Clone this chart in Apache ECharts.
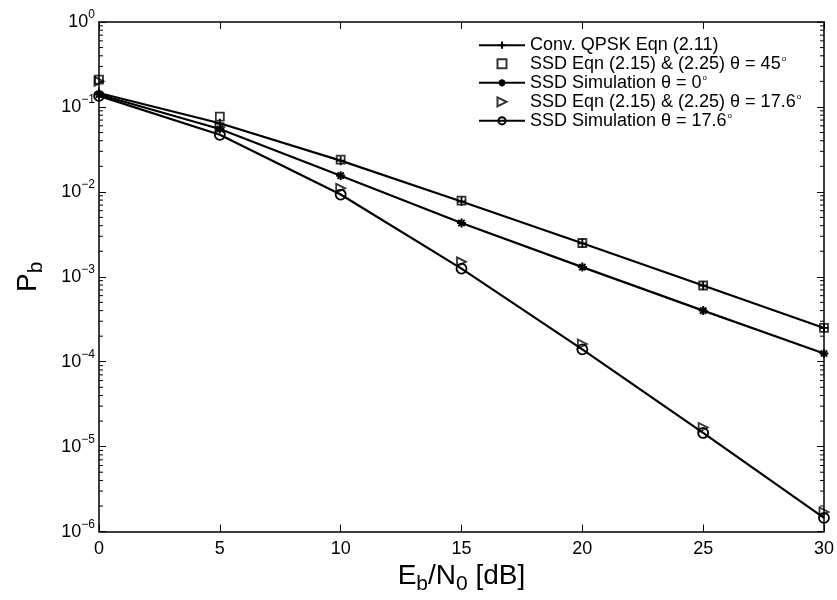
<!DOCTYPE html>
<html><head><meta charset="utf-8">
<script src="https://cdn.jsdelivr.net/npm/echarts@6/dist/echarts.min.js"></script>
<style>html,body{margin:0;padding:0;background:#fff}#c{width:837px;height:600px}</style>
</head><body><div id="c"></div>
<script>
var ebn0 = [0, 5, 10, 15, 20, 25, 30];
var convQPSK = [0.146, 0.0642, 0.0233, 0.0077, 0.00248, 0.00079, 0.00025];
var ssd45 = [0.21, 0.077, 0.024, 0.0079, 0.0025, 0.00079, 0.00025];
var ssdSim0 = [0.14, 0.055, 0.0155, 0.0043, 0.0013, 0.0004, 0.000125];
var ssd176 = [0.2, 0.058, 0.011, 0.0015, 0.000162, 0.0000168, 0.0000017];
var ssdSim176 = [0.135, 0.047, 0.0093, 0.00125, 0.00014, 0.0000145, 0.00000145];
var seriesNames = ['Conv. QPSK Eqn (2.11)', 'SSD Eqn (2.15) & (2.25) θ = 45°', 'SSD Simulation θ = 0°', 'SSD Eqn (2.15) & (2.25) θ = 17.6°', 'SSD Simulation θ = 17.6°'];
var xTicks = [0, 5, 10, 15, 20, 25, 30];
var minorMultipliers = [2, 3, 4, 5, 6, 7, 8, 9];
var decades = [1e-6, 1e-5, 1e-4, 1e-3, 1e-2, 1e-1];

var minorTickData = [];
decades.forEach(function (d) { minorMultipliers.forEach(function (m) { minorTickData.push([0, m * d]); }); });

function pairs(ys) { return ebn0.map(function (x, i) { return [x, ys[i]]; }); }

var FONT = 'Liberation Sans, Arial, sans-serif';
var plusPath = 'path://M5,0 L5,10 M0,5 L10,5';
var starPath = 'path://M5,0 L5,10 M0,5 L10,5 M1.5,1.5 L8.5,8.5 M8.5,1.5 L1.5,8.5';
var triPath = 'path://M0,0 L10,5 L0,10 Z';
var sqPath = 'path://M0,0 L10,0 L10,10 L0,10 Z';
var hollow = { color: 'rgba(0,0,0,0)', borderColor: '#000', borderWidth: 1.8 };

var chart = echarts.init(document.getElementById('c'), null, { renderer: 'canvas' });
chart.setOption({
  animation: false,
  backgroundColor: '#fff',
  textStyle: { fontFamily: FONT },
  grid: { left: 99, right: 11, top: 22, bottom: 67 },
  legend: {
    orient: 'vertical', left: 478, top: 36, padding: 0, itemWidth: 46, itemHeight: 9, itemGap: 0,
    data: seriesNames,
    textStyle: {
      fontFamily: FONT, fontSize: 18, color: '#000', lineHeight: 18.3,
      rich: { sup: { fontSize: 8, lineHeight: 8, padding: [0, 0, 11, 1], fontFamily: FONT, color: '#000' } }
    },
    formatter: function (n) { return n.replace('°', '{sup|o}'); }
  },
  xAxis: [{
    type: 'value', min: 0, max: 30, interval: 5, position: 'bottom',
    axisLine: { onZero: false, lineStyle: { color: '#000', width: 1.5 } },
    axisTick: { inside: true, length: 7, lineStyle: { color: '#000' } },
    splitLine: { show: false },
    axisLabel: { color: '#000', fontSize: 18, margin: 8, fontFamily: FONT },
    name: '{a|E}{s|b}{a|/N}{s|0}{a| [dB]}', nameLocation: 'middle', nameGap: 26,
    nameTextStyle: {
      color: '#000', fontFamily: FONT,
      rich: { a: { fontSize: 28, fontFamily: FONT, color: '#000' }, s: { fontSize: 21, padding: [16, 0, 0, 0], fontFamily: FONT, color: '#000' } }
    }
  }, {
    type: 'value', min: 0, max: 30, interval: 5, position: 'top',
    axisLine: { onZero: false, lineStyle: { color: '#000', width: 1.5 } },
    axisTick: { inside: true, length: 7, lineStyle: { color: '#000' } },
    axisLabel: { show: false }, splitLine: { show: false }
  }],
  yAxis: [{
    type: 'log', logBase: 10, min: 1e-6, max: 1, position: 'left',
    axisLine: { onZero: false, lineStyle: { color: '#000', width: 1.5 } },
    axisTick: { inside: true, length: 7, lineStyle: { color: '#000' } },
    splitLine: { show: false },
    axisLabel: {
      color: '#000', margin: 4, fontFamily: FONT,
      formatter: function (v) {
        var e = Math.round(Math.log10(v));
        return '{b|10}{s|' + (e < 0 ? '\u2212' + (-e) : e) + '}';
      },
      rich: { b: { fontSize: 18, fontFamily: FONT, color: '#000' }, s: { fontSize: 12, padding: [0, 0, 14, 0], fontFamily: FONT, color: '#000' } }
    },
    name: '{a|P}{s|b}', nameLocation: 'middle', nameGap: 52, nameRotate: 90,
    nameTextStyle: {
      color: '#000', fontFamily: FONT,
      rich: { a: { fontSize: 28, fontFamily: FONT, color: '#000' }, s: { fontSize: 21, padding: [16, 0, 0, 0], fontFamily: FONT, color: '#000' } }
    }
  }, {
    type: 'log', logBase: 10, min: 1e-6, max: 1, position: 'right',
    axisLine: { onZero: false, lineStyle: { color: '#000', width: 1.5 } },
    axisTick: { inside: true, length: 7, lineStyle: { color: '#000' } },
    axisLabel: { show: false }, splitLine: { show: false }
  }],
  series: [
    {
      name: seriesNames[0], type: 'line', data: pairs(convQPSK),
      symbol: plusPath, symbolSize: 9, showAllSymbol: true,
      lineStyle: { color: '#000', width: 2.2 }, itemStyle: hollow
    },
    {
      name: seriesNames[1], type: 'scatter', data: pairs(ssd45),
      symbol: sqPath, symbolSize: 8, itemStyle: hollow
    },
    {
      name: seriesNames[2], type: 'line', data: pairs(ssdSim0),
      symbol: starPath, symbolSize: 9,
      lineStyle: { color: '#000', width: 2.2 }, itemStyle: { color: 'rgba(0,0,0,0)', borderColor: '#000', borderWidth: 2 }
    },
    {
      name: seriesNames[3], type: 'scatter', data: pairs(ssd176),
      symbol: triPath, symbolSize: 9, itemStyle: hollow
    },
    {
      name: seriesNames[4], type: 'line', data: pairs(ssdSim176),
      symbol: 'circle', symbolSize: 10,
      lineStyle: { color: '#000', width: 2.2 }, itemStyle: hollow
    },
    {
      name: 'minorTicks', type: 'custom', data: minorTickData, silent: true, clip: false,
      renderItem: function (params, api) {
        var v = api.value(1);
        var l = api.coord([0, v]);
        var r = api.coord([30, v]);
        var st = { stroke: '#000', lineWidth: 1 };
        return {
          type: 'group', children: [
            { type: 'line', shape: { x1: l[0], y1: l[1], x2: l[0] + 4, y2: l[1] }, style: st },
            { type: 'line', shape: { x1: r[0], y1: r[1], x2: r[0] - 4, y2: r[1] }, style: st }
          ]
        };
      }
    }
  ]
});
</script></body></html>
